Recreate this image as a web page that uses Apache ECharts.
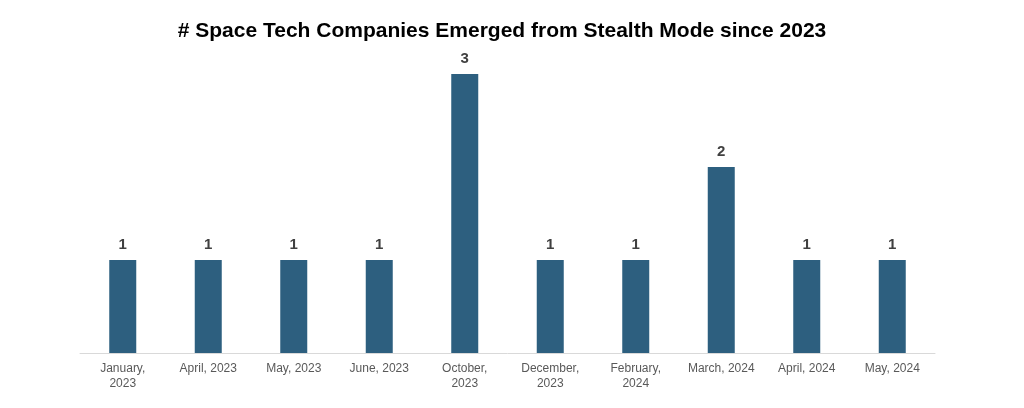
<!DOCTYPE html>
<html><head><meta charset="utf-8">
<script src="https://cdn.jsdelivr.net/npm/echarts@6/dist/echarts.min.js"></script>
<style>html,body{margin:0;padding:0;background:#fff}#c{width:1024px;height:408px}</style>
</head><body><div id="c"></div>
<script>
const categories = ["January,\n2023","April, 2023","May, 2023","June, 2023","October,\n2023","December,\n2023","February,\n2024","March, 2024","April, 2024","May, 2024"];
const values = [1,1,1,1,3,1,1,2,1,1];
const chart = echarts.init(document.getElementById('c'));
chart.setOption({
  animation:false,
  title:{text:'# Space Tech Companies Emerged from Stealth Mode since 2023',left:497,textAlign:'center',top:16,
    textStyle:{fontFamily:'Liberation Sans',fontWeight:'bold',fontSize:21,color:'#000'}},
  grid:{left:80,right:89,top:74,bottom:55},
  xAxis:{type:'category',data:categories,axisTick:{show:false},
    axisLine:{lineStyle:{color:'#d9d9d9'}},
    axisLabel:{interval:0,color:'#595959',fontFamily:'Liberation Sans',fontSize:12,lineHeight:15,margin:8}},
  yAxis:{type:'value',min:0,max:3,show:false,splitLine:{show:false}},
  series:[{type:'bar',data:values,barWidth:27,itemStyle:{color:'#2d5f7f'},
    label:{show:true,position:'top',distance:8,color:'#404040',fontFamily:'Liberation Sans',fontWeight:'bold',fontSize:15}}]
});
</script></body></html>
